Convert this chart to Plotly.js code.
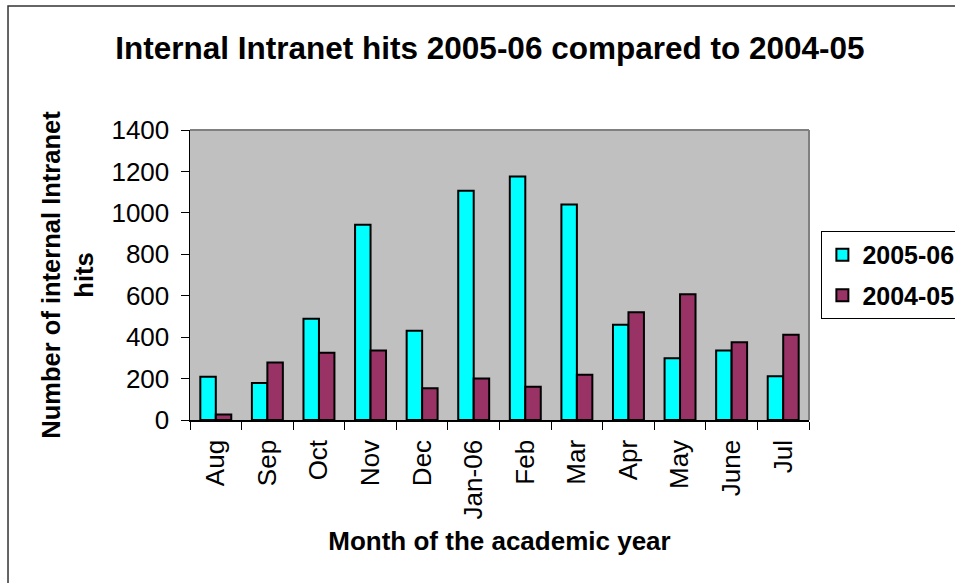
<!DOCTYPE html>
<html>
<head>
<meta charset="utf-8">
<script src="https://cdn.plot.ly/plotly-3.0.1.min.js"></script>
<style>
  html, body { margin: 0; padding: 0; background: #ffffff; }
  #chart { width: 955px; height: 583px; }
</style>
</head>
<body>
<div id="chart"></div>
<script>
// Months of the academic year (Aug to Jul)
const months = ['Aug', 'Sep', 'Oct', 'Nov', 'Dec', 'Jan-06', 'Feb', 'Mar', 'Apr', 'May', 'June', 'Jul'];

// Internal Intranet hits per month
const hits200506 = [209, 179, 489, 943, 431, 1107, 1175, 1040, 460, 298, 336, 211];
const hits200405 = [26, 277, 325, 336, 153, 200, 161, 219, 520, 607, 375, 412];

const seriesNames = ['2005-06', '2004-05'];
const seriesColors = ['#00FFFF', '#993366'];

const font = 'Liberation Sans, Arial, sans-serif';

const traces = [
  {
    type: 'bar',
    name: seriesNames[0],
    legendgroup: 'a',
    x: months,
    y: hits200506,
    marker: { color: seriesColors[0], line: { color: '#000000', width: 2 } },
    hoverinfo: 'x+y+name'
  },
  {
    type: 'bar',
    name: seriesNames[1],
    legendgroup: 'b',
    x: months,
    y: hits200405,
    marker: { color: seriesColors[1], line: { color: '#000000', width: 2 } },
    hoverinfo: 'x+y+name'
  }
];

const layout = {
  width: 955,
  height: 583,
  margin: { l: 190, r: 146, t: 130, b: 163, autoexpand: false },
  paper_bgcolor: '#ffffff',
  plot_bgcolor: '#C0C0C0',
  font: { family: font, color: '#000000', size: 26 },
  title: {
    text: '<b>Internal Intranet hits 2005-06 compared to 2004-05</b>',
    font: { family: font, size: 31.5, color: '#000000' },
    x: 0.513,
    xref: 'container',
    xanchor: 'center',
    y: 0.918,
    yref: 'container',
    yanchor: 'middle'
  },
  barmode: 'group',
  bargap: 0.4,
  bargroupgap: 0,
  showlegend: true,
  legend: {
    x: 1.02,
    y: 0.652,
    xref: 'paper',
    yref: 'paper',
    xanchor: 'left',
    yanchor: 'top',
    bgcolor: '#ffffff',
    bordercolor: '#000000',
    borderwidth: 1,
    font: { family: font, size: 25, color: '#000000', weight: 'bold' },
    tracegroupgap: 5,
    traceorder: 'grouped'
  },
  xaxis: {
    type: 'category',
    tickangle: -90,
    tickfont: { family: font, size: 26, color: '#000000' },
    ticks: 'outside',
    ticklen: 8,
    tickcolor: '#000000',
    tickwidth: 1,
    tickson: 'boundaries',
    ticklabelstandoff: 8,
    showline: true,
    linecolor: '#000000',
    linewidth: 1.5,
    showgrid: false,
    zeroline: false,
    title: {
      text: '<b>Month of the academic year</b>',
      font: { family: font, size: 26, color: '#000000' },
      standoff: 13
    }
  },
  yaxis: {
    range: [0, 1400],
    dtick: 200,
    tick0: 0,
    tickfont: { family: font, size: 26, color: '#000000' },
    ticks: 'outside',
    ticklen: 8,
    tickcolor: '#000000',
    tickwidth: 1,
    ticklabelstandoff: 6,
    showline: true,
    linecolor: '#000000',
    linewidth: 1.5,
    showgrid: false,
    zeroline: false,
    title: {
      text: '<b>Number of internal Intranet<br>hits</b>',
      font: { family: font, size: 25.5, color: '#000000' },
      standoff: 10
    }
  },
  shapes: [
    // grey border along the top and right of the plot area
    { type: 'line', xref: 'paper', yref: 'paper', x0: 0, x1: 1, y0: 1, y1: 1,
      line: { color: '#808080', width: 2 }, layer: 'above' },
    { type: 'line', xref: 'paper', yref: 'paper', x0: 1, x1: 1, y0: 0, y1: 1,
      line: { color: '#808080', width: 2 }, layer: 'above' },
    // outer chart frame
    { type: 'rect', xref: 'paper', yref: 'paper', x0: -0.294, x1: 1.3, y0: -0.7, y1: 1.4276,
      line: { color: '#333333', width: 1.5 }, fillcolor: 'rgba(0,0,0,0)', layer: 'above' }
  ]
};

Plotly.newPlot('chart', traces, layout, { displayModeBar: false, staticPlot: true });
</script>
</body>
</html>
